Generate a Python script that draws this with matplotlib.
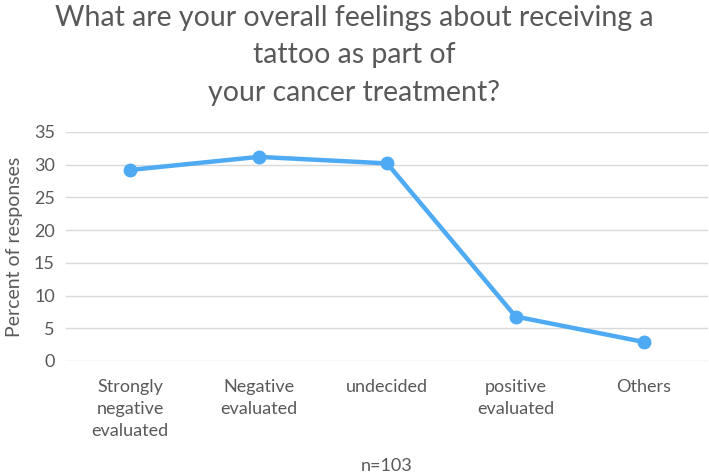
import matplotlib
matplotlib.use('Agg')
import matplotlib.pyplot as plt

# data
categories = ['Strongly\nnegative\nevaluated', 'Negative\nevaluated', 'undecided',
              'positive\nevaluated', 'Others']
percent = [29.2, 31.2, 30.2, 6.8, 2.9]
y_ticks = [0, 5, 10, 15, 20, 25, 30, 35]

plt.rcParams['font.family'] = ['Lato', 'DejaVu Sans']
grey = '#595959'

fig = plt.figure(figsize=(7.09, 4.76), dpi=100)
ax = fig.add_axes([0.093, 0.2416, 0.906, 0.4811])

x = list(range(len(categories)))
ax.plot(x, percent, color='#4DAAF3', linewidth=3.2, marker='o', markersize=9,
        solid_capstyle='round', zorder=3)

ax.set_xlim(-0.5, len(categories) - 0.5)
ax.set_ylim(0, 35)
ax.set_yticks(y_ticks)
ax.set_xticks(x)
ax.set_xticklabels(categories, va='top', linespacing=1.45)
ax.tick_params(axis='both', length=0, colors=grey, labelsize=13)
ax.tick_params(axis='x', pad=13)
ax.tick_params(axis='y', pad=8)
ax.yaxis.grid(True, color='#D9D9D9', linewidth=1)
ax.set_axisbelow(True)
for s in ax.spines.values():
    s.set_visible(False)

ax.set_ylabel('Percent of responses', color=grey, fontsize=14, labelpad=8)
ax.set_xlabel('n=103', color=grey, fontsize=13, labelpad=14)

fig.suptitle('What are your overall feelings about receiving a\ntattoo as part of\nyour cancer treatment?',
             x=0.5, y=0.99, color=grey, fontsize=20.5, linespacing=1.55)

fig.savefig('out.png', dpi=100)
